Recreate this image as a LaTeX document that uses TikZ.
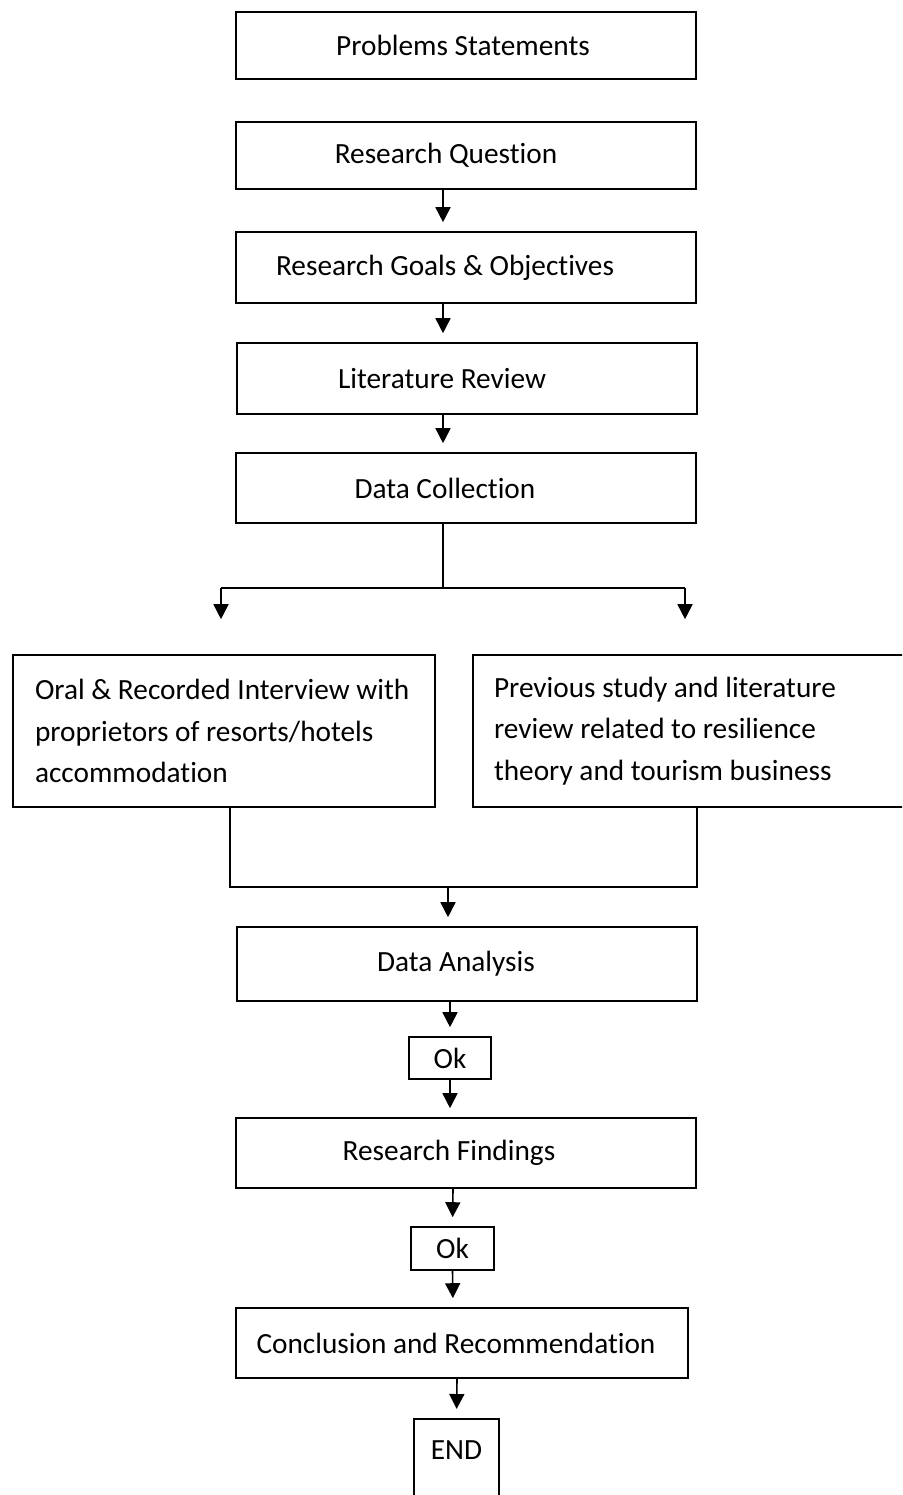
\documentclass[tikz,border=0pt]{standalone}
\usepackage{fontspec}
\setmainfont{Carlito}[Ligatures=NoCommon]
\usetikzlibrary{arrows.meta}

\tikzset{
  stepbox/.style={draw, line width=1.6pt, inner sep=0pt},
  txt/.style={inner sep=0pt, font=\fontsize{29.3}{41.5}\selectfont},
  sidebox/.style={stepbox, txt, align=left, text width=#1,
    execute at begin node={\spaceskip=0pt\xspaceskip=0pt\relax}},
  arr/.style={line width=1.6pt, -{Triangle[width=15pt,length=15pt]}, shorten >=9pt},
  ln/.style={line width=1.6pt},
}

\begin{document}
\begin{tikzpicture}[x=1pt,y=-1pt]
  \clip (0,0) rectangle (902,1495);

  % main column
  \node[stepbox, minimum width=460pt, minimum height=67pt] (ps) at (466,45.5) {};
  \node[stepbox, minimum width=460pt, minimum height=67pt] (rq) at (466,155.5) {};
  \node[stepbox, minimum width=460pt, minimum height=71pt] (goals) at (466,267.5) {};
  \node[stepbox, minimum width=460pt, minimum height=71pt] (lit) at (467,378.5) {};
  \node[stepbox, minimum width=460pt, minimum height=70pt] (dc) at (466,488) {};
  \node[txt] (pst) at (463,45.5) {Problems Statements};
  \node[txt] (rqt) at (446,155.5) {Research Question};
  \node[txt] (goalst) at (445,267.5) {Research Goals \& Objectives};
  \node[txt] (litt) at (442,378.5) {Literature Review};
  \node[txt] (dct) at (445,488) {Data Collection};

  % two sources
  \node[sidebox=378pt, minimum width=422pt, minimum height=152pt] (oral) at (224,731)
    {Oral \& Recorded Interview with\\proprietors of resorts/hotels\\accommodation};
  \node[sidebox=410pt, minimum width=452pt, minimum height=152pt] (prev) at (699,731)
    {Previous study and literature\\review related to resilience\\theory and tourism business};

  \node[stepbox, minimum width=460pt, minimum height=74pt] (da) at (467,964) {};
  \node[txt] (dat) at (456,964) {Data Analysis};
  \node[stepbox, txt, minimum width=82pt, minimum height=42pt] (ok1) at (450,1058) {Ok};
  \node[stepbox, minimum width=460pt, minimum height=70pt] (rf) at (466,1153) {};
  \node[txt] (rft) at (449,1153) {Research Findings};
  \node[stepbox, txt, minimum width=83pt, minimum height=43pt] (ok2) at (452.5,1248.5) {Ok};
  \node[stepbox, minimum width=452pt, minimum height=70pt] (cr) at (462,1343) {};
  \node[txt] (crt) at (456,1343) {Conclusion and Recommendation};
  \node[stepbox, minimum width=85pt, minimum height=110pt, anchor=north] (end) at (456.5,1418) {};
  \node[txt] (endt) at (456.5,1450) {END};

  % arrows down the column
  \draw[arr] ([xshift=-23pt]rq.south) -- ([xshift=-23pt]goals.north);
  \draw[arr] ([xshift=-23pt]goals.south) -- ([xshift=-24pt]lit.north);
  \draw[arr] ([xshift=-24pt]lit.south) -- ([xshift=-23pt]dc.north);

  % split
  \coordinate (br) at (443,588);
  \coordinate (bl) at (221,588);
  \coordinate (bR) at (685,588);
  \draw[ln] ([xshift=-23pt]dc.south) -- (br);
  \draw[ln] (bl) -- (bR);
  \draw[arr, shorten >=35pt] (bl) -- (bl |- oral.north);
  \draw[arr, shorten >=35pt] (bR) -- (bR |- prev.north);

  % merge
  \coordinate (ml) at (230,887);
  \coordinate (mr) at (697,887);
  \coordinate (mc) at (448,887);
  \draw[ln] (ml |- oral.south) -- (ml) -- (mr) -- (mr |- prev.south);
  \draw[arr] (mc) -- (mc |- da.north);

  \draw[arr] ([xshift=-17pt]da.south) -- (ok1.north);
  \draw[arr] (ok1.south) -- ([xshift=-16pt]rf.north);
  \draw[arr] ([xshift=-13pt]rf.south) -- (ok2.north);
  \draw[arr] (ok2.south) -- ([xshift=-9pt]cr.north);
  \draw[arr] ([xshift=-5pt]cr.south) -- (end.north);
\end{tikzpicture}
\end{document}
